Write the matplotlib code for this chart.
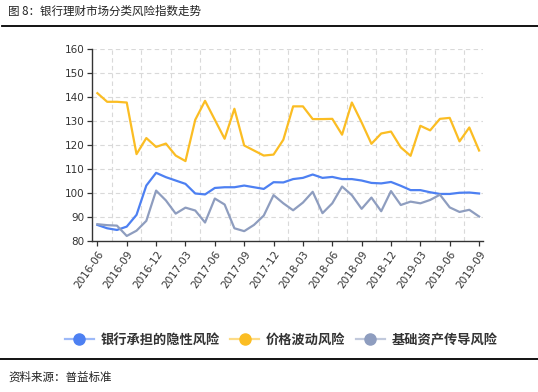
import matplotlib
matplotlib.use("Agg")
import matplotlib.pyplot as plt
from matplotlib.lines import Line2D
import matplotlib.colors as mcolors
import numpy as np

months = ["2016-06","2016-07","2016-08","2016-09","2016-10","2016-11","2016-12",
          "2017-01","2017-02","2017-03","2017-04","2017-05","2017-06","2017-07",
          "2017-08","2017-09","2017-10","2017-11","2017-12","2018-01","2018-02",
          "2018-03","2018-04","2018-05","2018-06","2018-07","2018-08","2018-09",
          "2018-10","2018-11","2018-12","2019-01","2019-02","2019-03","2019-04",
          "2019-05","2019-06","2019-07","2019-08","2019-09"]

implicit_risk = [86.7, 85.3, 84.6, 86.0, 90.9, 103.1, 108.4, 106.6, 105.2, 103.8,
                 99.8, 99.4, 102.1, 102.4, 102.4, 103.1, 102.4, 101.7, 104.5, 104.4,
                 105.8, 106.3, 107.7, 106.3, 106.7, 105.8, 105.8, 105.2, 104.2, 104.0,
                 104.6, 103.0, 101.2, 101.2, 100.3, 99.6, 99.6, 100.1, 100.2, 99.8]

price_risk = [141.6, 138.0, 138.0, 137.7, 116.2, 122.9, 119.2, 120.6, 115.6, 113.3,
              130.5, 138.4, 130.5, 122.6, 135.1, 119.8, 117.7, 115.6, 116.0, 122.2,
              136.1, 136.1, 130.8, 130.8, 130.9, 124.3, 137.7, 129.4, 120.5, 124.8,
              125.6, 119.0, 115.5, 128.0, 126.1, 130.9, 131.3, 121.5, 127.3, 117.7]

base_risk = [87.0, 86.6, 86.4, 82.1, 84.3, 88.4, 101.0, 96.9, 91.4, 93.9,
             92.7, 87.7, 97.7, 95.2, 85.3, 84.1, 86.7, 90.6, 99.1, 95.7,
             92.8, 96.0, 100.5, 91.6, 95.7, 102.7, 99.1, 93.4, 98.1, 92.4,
             100.8, 95.0, 96.4, 95.7, 97.1, 99.3, 94.0, 92.1, 93.0, 90.2]

series_names = ["银行承担的隐性风险", "价格波动风险", "基础资产传导风险"]
colors = ["#4d80f2", "#fbbd23", "#8e9dbf"]
yticks = [80, 90, 100, 110, 120, 130, 140, 150, 160]

cjk = ["Noto Sans CJK SC", "DejaVu Sans"]


def lighten(c, f=0.5):
    r, g, b = mcolors.to_rgb(c)
    return (r + (1 - r) * f, g + (1 - g) * f, b + (1 - b) * f)


fig = plt.figure(figsize=(5.38, 3.92), dpi=100)
ax = fig.add_axes([92/538, 1-241/392, (483-92)/538, (241-49)/392])

x = np.arange(len(months))
for vals, c in zip([implicit_risk, price_risk, base_risk], colors):
    ax.plot(x, vals, color=c, lw=1.6, solid_joinstyle="round", zorder=3)

ax.set_ylim(80, 160)
ax.set_yticks(yticks)
ax.set_xlim(-0.55, 39.4)
tick_pos = x[::3]
ax.set_xticks(tick_pos)
ax.set_xticklabels([months[i] for i in tick_pos], rotation=55, ha="right",
                   rotation_mode="anchor", fontsize=7.5, color="#333333")
for t in ax.get_yticklabels():
    t.set_fontsize(7.5)
    t.set_color("#333333")

# grid
for yv in yticks[1:]:
    ax.axhline(yv, color="#d9d9d9", lw=0.8, ls=(0, (4, 3)), zorder=1)
for xv in np.arange(1.5, 39, 3):
    ax.axvline(xv, color="#d9d9d9", lw=0.8, ls=(0, (4, 3)), zorder=1)

for s in ["top", "right"]:
    ax.spines[s].set_visible(False)
for s in ["left", "bottom"]:
    ax.spines[s].set_color("#333333")
    ax.spines[s].set_linewidth(1.0)
ax.tick_params(axis="both", direction="out", length=3.5, width=0.9, color="#333333", pad=2)

# legend
handles = [Line2D([0], [0], color=lighten(c, 0.45), lw=1.6, marker="o", markersize=8,
                  markerfacecolor=c, markeredgecolor=c) for c in colors]
leg = fig.legend(handles, series_names, loc="center", bbox_to_anchor=(281/538, 1-340/392),
                 ncol=3, frameon=False, prop={"family": cjk, "size": 9.5, "weight": "bold"},
                 handlelength=2.2, handletextpad=0.5, columnspacing=0.8)
for t in leg.get_texts():
    t.set_color("#333333")

# title, rules, source
fig.text(8/538, 1-11/392, "图 8：银行理财市场分类风险指数走势", family=cjk, fontsize=8.3,
         color="#222222", va="center", ha="left")
fig.add_artist(Line2D([2/538, 1], [1-25.5/392, 1-25.5/392], color="black", lw=1.3))
fig.add_artist(Line2D([0, 1], [1-359/392, 1-359/392], color="black", lw=1.3))
fig.text(8/538, 1-377/392, "资料来源：普益标准", family=cjk, fontsize=8.3,
         color="#222222", va="center", ha="left")

fig.savefig("out.png", dpi=100)
